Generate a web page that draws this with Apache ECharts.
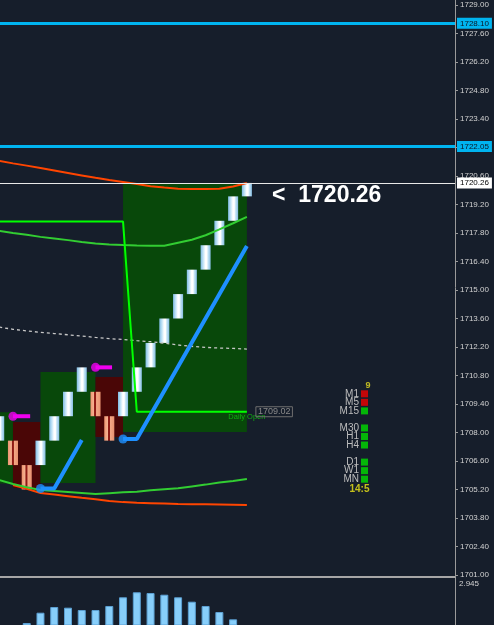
<!DOCTYPE html>
<html>
<head>
<meta charset="utf-8">
<script src="https://cdn.jsdelivr.net/npm/echarts@6/dist/echarts.min.js"></script>
<style>
html, body { margin: 0; padding: 0; background: #161e2b; }
#chart { width: 494px; height: 625px; }
</style>
</head>
<body>
<div id="chart"></div>
<script>
// renko bricks, one per column
const brickOpen  = [1707.6, 1707.6, 1706.4, 1706.4, 1707.6, 1708.8, 1710.0, 1710.0, 1708.8, 1708.8, 1710.0, 1711.2, 1712.4, 1713.6, 1714.8, 1716.0, 1717.2, 1718.4, 1719.6]
const brickClose = [1708.8, 1706.4, 1705.2, 1707.6, 1708.8, 1710.0, 1711.2, 1708.8, 1707.6, 1710.0, 1711.2, 1712.4, 1713.6, 1714.8, 1716.0, 1717.2, 1718.4, 1719.6, 1720.26]

// background boxes
const boxFrom = [-1, 1, 3, 7, 9]
const boxTo   = [1, 3, 7, 9, 18]
const boxHigh = [1709.0, 1708.52, 1710.97, 1710.73, 1720.26]
const boxLow  = [1705.5, 1705.27, 1705.52, 1707.78, 1708.02]
const boxBull = [1, 0, 1, 0, 1]

// bands
const upperOrange = [1721.34, 1721.22, 1721.11, 1720.99, 1720.87, 1720.75, 1720.63, 1720.51, 1720.40, 1720.31, 1720.21, 1720.10, 1720.03, 1719.97, 1719.96, 1719.96, 1719.97, 1720.08, 1720.26]
const upperGreen  = [1717.90, 1717.80, 1717.71, 1717.61, 1717.53, 1717.45, 1717.36, 1717.29, 1717.24, 1717.21, 1717.19, 1717.18, 1717.17, 1717.32, 1717.47, 1717.69, 1717.98, 1718.28, 1718.59]
const lowerGreen  = [1705.67, 1705.47, 1705.31, 1705.18, 1705.13, 1705.08, 1705.03, 1704.98, 1705.02, 1705.06, 1705.09, 1705.16, 1705.21, 1705.26, 1705.35, 1705.44, 1705.54, 1705.62, 1705.72]
const lowerOrange = [null, 1705.42, 1705.23, 1705.03, 1704.95, 1704.87, 1704.79, 1704.72, 1704.63, 1704.58, 1704.55, 1704.53, 1704.51, 1704.49, 1704.48, 1704.47, 1704.46, 1704.45, 1704.44]
const midDashed   = [1713.18, 1713.07, 1712.99, 1712.92, 1712.86, 1712.80, 1712.74, 1712.67, 1712.61, 1712.57, 1712.51, 1712.46, 1712.39, 1712.30, 1712.23, 1712.18, 1712.15, 1712.13, 1712.10]

// daily open step
const dailyOpen = [[0, 1718.36], [9, 1718.36], [10, 1709.02], [18, 1709.02]]
const dailyOpenValue = 1709.02

// blue trend segments and their start dots
const trendA = [[3, 1705.25], [4, 1705.25], [6, 1707.63]]
const trendB = [[9, 1707.68], [10, 1707.68], [18, 1717.16]]
const trendDots = [[0, 1705.22], [3, 1705.25], [9, 1707.68]]

// magenta pivot marks
const pivotA = [[1, 1708.8], [2.25, 1708.8]]
const pivotB = [[7, 1711.2], [8.2, 1711.2]]
const pivotDots = [[1, 1708.8], [7, 1711.2]]

// horizontal levels
const levels = [1728.10, 1722.05]
const lastPrice = 1720.26

// lower pane histogram (columns 0, 1, 18 are below the window)
const histVal = [null, null, 1.861, 2.104, 2.238, 2.222, 2.167, 2.167, 2.262, 2.467, 2.585, 2.568, 2.528, 2.467, 2.363, 2.262, 2.120, 1.948, null]
const histMax = 2.945
const histFloor = 1.814   // value at the bottom edge of the window

// timeframe panel
const tfRows  = ['9', 'M1', 'M5', 'M15', 'gap1', 'M30', 'H1', 'H4', 'gap2', 'D1', 'W1', 'MN', '14:5']
const tfNames = ['M1', 'M5', 'M15', 'M30', 'H1', 'H4', 'D1', 'W1', 'MN']
const tfState = [0, 0, 1, 1, 1, 1, 1, 1, 1]

const yMin = 1701, yMax = 1729.246, yStep = 1.4
const xMin = 0.058, xMax = 33.125
const font = 'Liberation Sans'
const bg = '#161e2b'

let chart = echarts.init(document.getElementById('chart'))

const bullFill = new echarts.graphic.LinearGradient(0, 0, 1, 0, [
  {offset: 0, color: '#7fbbe2'}, {offset: 0.25, color: '#bfe2f6'},
  {offset: 0.48, color: '#ffffff'}, {offset: 0.62, color: '#ffffff'},
  {offset: 0.75, color: '#c4e4f6'}, {offset: 1, color: '#86bde2'}
])
const bearFill = new echarts.graphic.LinearGradient(0, 0, 1, 0, [
  {offset: 0, color: '#ee9570'}, {offset: 0.35, color: '#f6b393'},
  {offset: 0.4, color: '#8e1a14'}, {offset: 0.55, color: '#8e1a14'},
  {offset: 0.6, color: '#f4a886'}, {offset: 1, color: '#e89270'}
])

function renderBrick(params, api) {
  let i = api.value(0), o = api.value(1), c = api.value(2)
  let top = api.coord([i, Math.max(o, c)])
  let bot = api.coord([i, Math.min(o, c)])
  let w = api.size([0.73, 0])[0]
  return {
    type: 'rect',
    shape: {x: top[0] - w / 2, y: top[1], width: w, height: bot[1] - top[1]},
    style: {fill: c > o ? bullFill : bearFill}
  }
}

function renderBox(params, api) {
  let a = api.coord([api.value(0), api.value(2)])
  let b = api.coord([api.value(1), api.value(3)])
  return {
    type: 'rect',
    shape: {x: a[0], y: a[1], width: b[0] - a[0], height: b[1] - a[1]},
    style: {fill: api.value(4) ? '#08480a' : '#4a0606'}
  }
}

function band(arr, color, z, extra) {
  return Object.assign({
    type: 'line',
    data: arr.map((v, i) => [i, v]).filter(d => d[1] !== null),
    showSymbol: false,
    symbol: 'none',
    silent: true,
    z: z,
    lineStyle: {color: color, width: 2}
  }, extra || {})
}

chart.setOption({
  backgroundColor: bg,
  animation: false,
  grid: [
    {left: 0, right: 39, top: 0, height: 575},
    {left: 0, right: 39, top: 577, height: 48},
    {left: 361, width: 7, top: 381, height: 111}
  ],
  xAxis: [
    {type: 'value', gridIndex: 0, min: xMin, max: xMax, show: false},
    {
      type: 'value', gridIndex: 1, min: xMin, max: xMax, position: 'top',
      axisLine: {show: true, lineStyle: {color: '#a6a6a6', width: 2}},
      axisTick: {show: false}, axisLabel: {show: false}, splitLine: {show: false}
    },
    {type: 'category', gridIndex: 2, data: ['s'], show: false}
  ],
  yAxis: [
    {
      type: 'value', gridIndex: 0, position: 'right',
      min: yMin, max: yMax, interval: yStep,
      axisLine: {show: true, lineStyle: {color: '#9a9a9a'}},
      axisTick: {show: true, length: 3, lineStyle: {color: '#9a9a9a'}},
      splitLine: {show: false},
      axisLabel: {
        margin: 5, fontSize: 8, fontFamily: font, color: '#d2d2d2', showMaxLabel: false,
        formatter: v => {
          let k = (v - yMin) / yStep
          return Math.abs(k - Math.round(k)) < 1e-6 ? v.toFixed(2) : ''
        }
      }
    },
    {
      type: 'value', gridIndex: 1, position: 'right',
      min: histFloor, max: histMax, interval: histMax - histFloor,
      axisLine: {show: true, lineStyle: {color: '#9a9a9a'}},
      axisTick: {show: false}, splitLine: {show: false},
      axisLabel: {
        margin: 4, fontSize: 8, fontFamily: font, color: '#d2d2d2',
        verticalAlign: 'top', padding: [3, 0, 0, 0],
        formatter: v => Math.abs(v - histMax) < 1e-6 ? histMax.toFixed(3) : ''
      }
    },
    {
      type: 'category', gridIndex: 2, data: tfRows, inverse: true,
      axisLine: {show: false}, axisTick: {show: false}, splitLine: {show: false},
      axisLabel: {
        interval: 0, margin: 2, fontSize: 10, fontFamily: font, color: '#bdbdbd',
        formatter: n => tfNames.includes(n) ? n : ''
      }
    }
  ],
  series: [
    {
      type: 'custom', name: 'boxes', z: 1, silent: true,
      renderItem: renderBox,
      data: boxFrom.map((f, k) => [f, boxTo[k], boxHigh[k], boxLow[k], boxBull[k]])
    },
    {
      type: 'custom', name: 'bricks', z: 2, silent: true,
      renderItem: renderBrick,
      data: brickOpen.map((o, i) => [i, o, brickClose[i]])
    },
    band(midDashed, '#c8c8c8', 3, {lineStyle: {color: '#c8c8c8', width: 1.3, type: [3, 3]}}),
    band(upperOrange, '#ff4500', 3),
    band(lowerOrange, '#ff4500', 3),
    band(upperGreen, '#32cd32', 3),
    band(lowerGreen, '#32cd32', 3),
    {
      type: 'line', name: 'daily open', data: dailyOpen, showSymbol: false, symbol: 'none',
      silent: true, z: 3, clip: false,
      lineStyle: {color: '#00ff00', width: 2},
      markPoint: {
        silent: true, symbolSize: 0,
        data: [
          {
            coord: [18, dailyOpenValue],
            label: {show: true, formatter: 'Daily Open', position: 'bottom', distance: 1,
              fontSize: 7.5, fontFamily: font, color: '#0fb00f'}
          },
          {
            coord: [18, dailyOpenValue],
            label: {show: true, formatter: dailyOpenValue.toFixed(2), position: 'right', distance: 9,
              fontSize: 9, fontFamily: font, color: '#8a8a8a',
              borderColor: '#6e6e6e', borderWidth: 1, padding: [1, 2, 0, 2]}
          }
        ]
      }
    },
    band([], '#1e90ff', 4, {data: trendA, lineStyle: {color: '#1e90ff', width: 4}}),
    band([], '#1e90ff', 4, {data: trendB, lineStyle: {color: '#1e90ff', width: 4}}),
    {
      type: 'scatter', data: trendDots, symbolSize: 9, silent: true, z: 4,
      itemStyle: {color: '#1e90ff'}
    },
    band([], '#ff00ff', 4, {data: pivotA, lineStyle: {color: '#f000f0', width: 4}}),
    band([], '#ff00ff', 4, {data: pivotB, lineStyle: {color: '#f000f0', width: 4}}),
    {
      type: 'scatter', data: pivotDots, symbolSize: 9, silent: true, z: 4,
      itemStyle: {color: '#f000f0'}
    },
    {
      type: 'line', name: 'levels', data: [], clip: false, z: 5,
      markLine: {
        silent: true, symbol: ['none', 'none'],
        data: levels.map(v => ({
          yAxis: v,
          lineStyle: {color: '#00b4f0', width: 3, type: 'solid'},
          label: {show: true, position: 'end', distance: 2, formatter: v.toFixed(2),
            fontSize: 8, fontFamily: font, color: '#0a1624', backgroundColor: '#00b4f0', padding: [2, 3, 1, 3]}
        })).concat([{
          yAxis: lastPrice,
          lineStyle: {color: '#e8e8e8', width: 1, type: 'solid'},
          label: {show: true, position: 'end', distance: 2, formatter: lastPrice.toFixed(2),
            fontSize: 8, fontFamily: font, color: '#000000', backgroundColor: '#ffffff', padding: [2, 3, 1, 3]}
        }])
      },
      markPoint: {
        silent: true, symbolSize: 0,
        data: [{
          coord: [19.83, lastPrice],
          label: {show: true, formatter: '<  ' + lastPrice.toFixed(2), position: 'right', distance: 0,
            offset: [0, 13], fontSize: 23, fontWeight: 'bold', fontFamily: font, color: '#ffffff'}
        }]
      }
    },
    {
      type: 'bar', xAxisIndex: 1, yAxisIndex: 1, silent: true,
      data: histVal.map((v, i) => [i, v]).filter(d => d[1] !== null),
      barWidth: 8,
      itemStyle: {color: '#87cefa', borderColor: '#5b9fd2', borderWidth: 1}
    },
    {
      type: 'scatter', xAxisIndex: 2, yAxisIndex: 2, silent: true,
      symbol: 'rect', symbolSize: 7,
      data: tfNames.map((n, k) => ({
        value: [0, tfRows.indexOf(n)],
        itemStyle: {color: tfState[k] ? '#00dc00' : '#f00000'}
      }))
    },
    {
      type: 'scatter', xAxisIndex: 2, yAxisIndex: 2, silent: true, symbolSize: 0,
      data: [
        {value: [0, 0], label: {show: true, formatter: tfRows[0], position: 'left', distance: 0, offset: [6, 0],
          fontSize: 9, fontWeight: 'bold', fontFamily: font, color: '#e8e020'}},
        {value: [0, 12], label: {show: true, formatter: tfRows[12], position: 'left', distance: 0, offset: [5, 2],
          fontSize: 10, fontWeight: 'bold', fontFamily: font, color: '#f0e818'}}
      ]
    }
  ]
})
</script>
</body>
</html>
